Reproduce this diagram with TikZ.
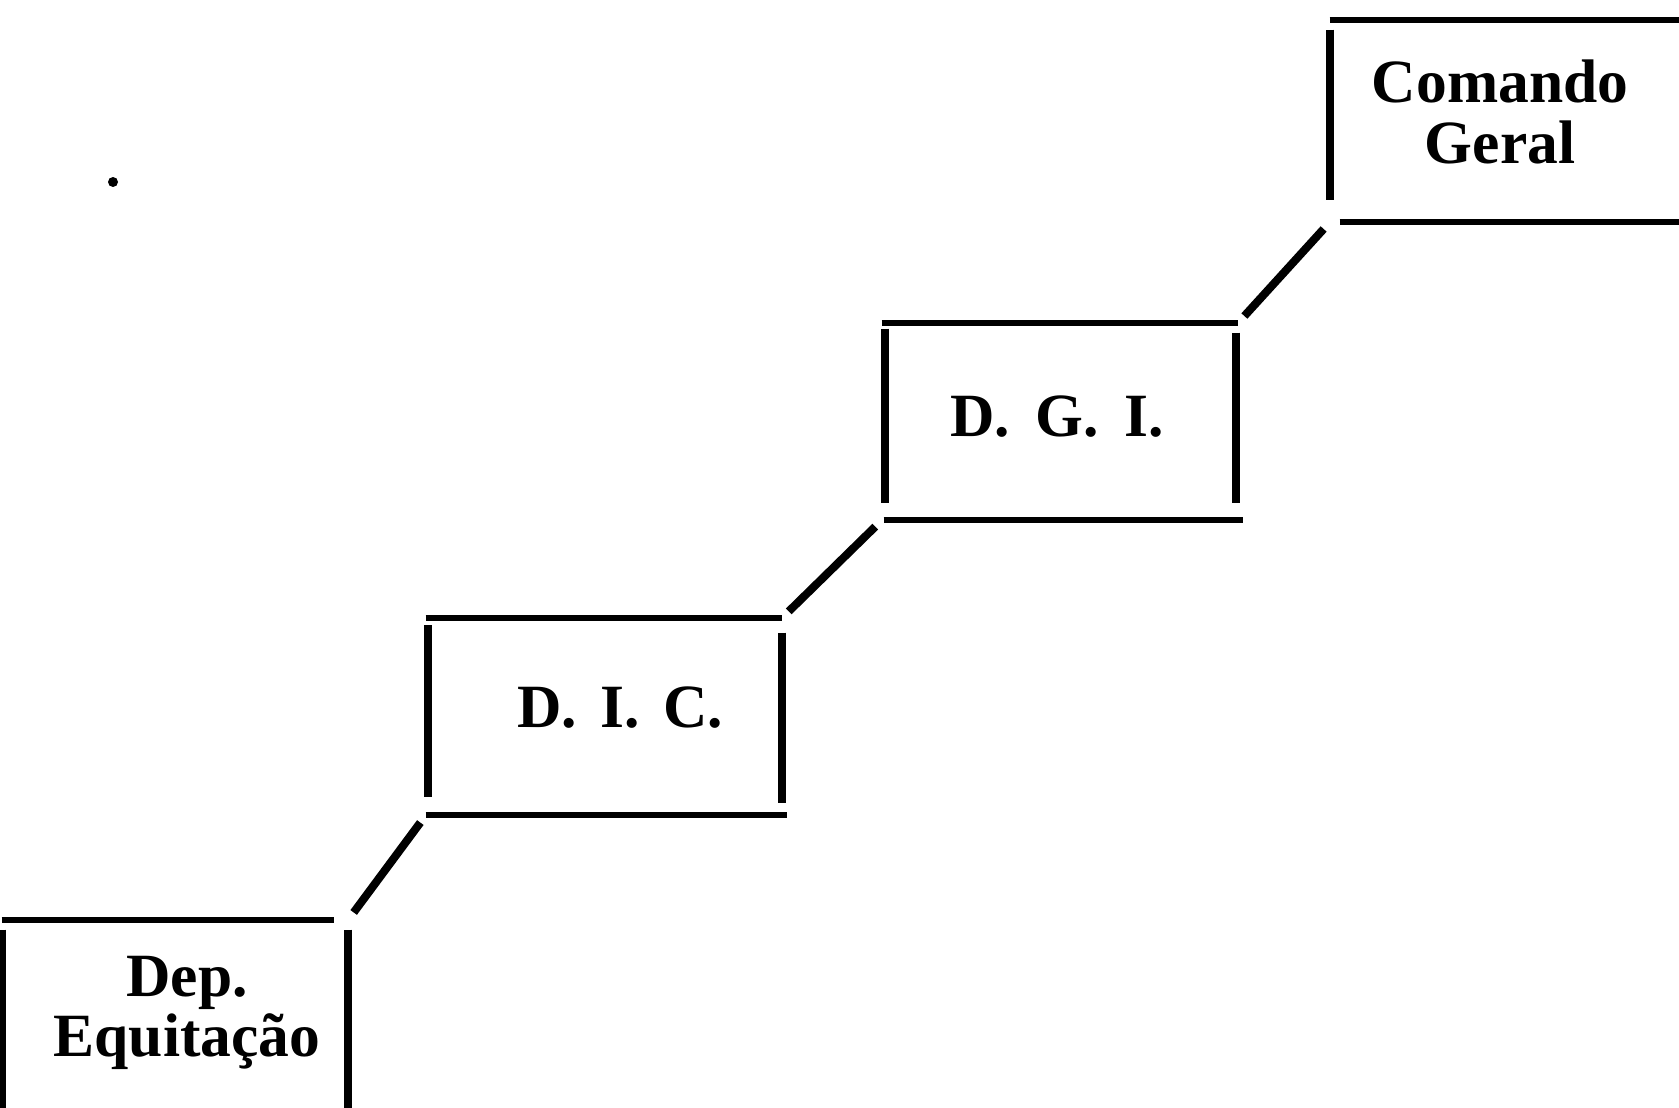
\documentclass[tikz,border=0pt]{standalone}
\usepackage{fontspec}
\setmainfont{Liberation Serif}
\begin{document}
\begin{tikzpicture}[x=0.02cm,y=-0.02cm,
  boxnode/.style={draw=none,rectangle,inner sep=0pt},
  lbl/.style={font=\bfseries\fontsize{35}{34.5}\selectfont,align=center,inner sep=0pt},
  side/.style={line width=3.3pt},
  vside/.style={line width=4.4pt},
  conn/.style={line width=4.6pt,shorten >=0.18cm,shorten <=0.18cm},
  dot/.style={circle,fill=black,inner sep=0pt,minimum size=0.2cm}]
\useasboundingbox (0,0) rectangle (1679,1108);
% boxes
\node[boxnode,minimum width=7.8cm,minimum height=4.04cm] (cg) at (1525,121) {};
\node[boxnode,minimum width=7.12cm,minimum height=3.94cm] (dgi) at (1060,421.5) {};
\node[boxnode,minimum width=7.12cm,minimum height=3.94cm] (dic) at (604,716.5) {};
\node[boxnode,minimum width=6.92cm,minimum height=4.4cm] (dep) at (175,1030) {};
% labels
\node[lbl] (cgt) at (1500,112) {Comando\\Geral};
\node[lbl] (dgit) at (1057,417) {D.\hspace{0.42em}G.\hspace{0.42em}I.};
\node[lbl] (dict) at (620,708) {D.\hspace{0.38em}I.\hspace{0.38em}C.};
\node[lbl] (dept) at (187,1013) {Dep.\\Equitação};
% Comando Geral sides
\draw[side] (cg.north west) -- (cg.north east);
\draw[vside] ([yshift=-0.2cm]cg.north west) -- ([yshift=0.45cm]cg.south west);
\draw[side] ([xshift=0.2cm]cg.south west) -- (cg.south east);
% D.G.I. sides
\draw[side] (dgi.north west) -- (dgi.north east);
\draw[vside] ([xshift=0.06cm,yshift=-0.12cm]dgi.north west) -- ([xshift=0.06cm,yshift=0.35cm]dgi.south west);
\draw[vside] ([xshift=-0.04cm,yshift=-0.2cm]dgi.north east) -- ([xshift=-0.04cm,yshift=0.35cm]dgi.south east);
\draw[side] ([xshift=0.04cm]dgi.south west) -- ([xshift=0.1cm]dgi.south east);
% D.I.C. sides
\draw[side] (dic.north west) -- (dic.north east);
\draw[vside] ([xshift=0.04cm,yshift=-0.15cm]dic.north west) -- ([xshift=0.04cm,yshift=0.36cm]dic.south west);
\draw[vside] ([yshift=-0.3cm]dic.north east) -- ([yshift=0.24cm]dic.south east);
\draw[side] (dic.south west) -- ([xshift=0.1cm]dic.south east);
% Dep. Equitacao sides
\draw[side] (dep.north west) -- ([xshift=-0.28cm]dep.north east);
\draw[vside] ([yshift=-0.2cm]dep.north west) -- (dep.south west);
\draw[vside] ([yshift=-0.2cm]dep.north east) -- (dep.south east);
% connectors
\draw[conn] (cg.south west) -- (dgi.north east);
\draw[conn] (dgi.south west) -- (dic.north east);
\draw[conn] (dic.south west) -- (dep.north east);
% stray dot
\node[dot] (d0) at (113,182) {};
\end{tikzpicture}
\end{document}
